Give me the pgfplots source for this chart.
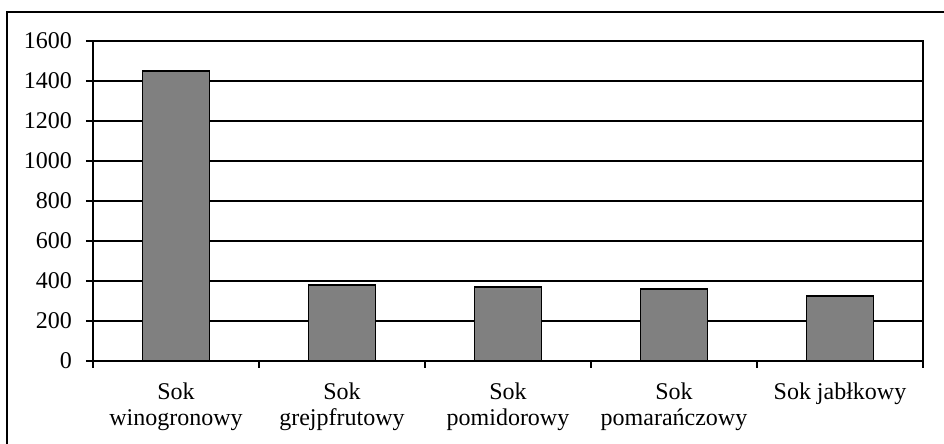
\documentclass[border=0pt]{standalone}
\usepackage{pgfplots}
\pgfplotsset{compat=1.18}
\usepackage{fontspec}
\setmainfont{Liberation Serif}
\definecolor{bargray}{HTML}{808080}
\begin{document}
\begin{tikzpicture}
\path[use as bounding box] (-46.5pt,-41.5pt) rectangle (425.5pt,180.5pt);
% outer frame; its right and bottom sides lie past the page edge
\draw[line width=0.7pt] (-43pt,-60pt) rectangle (440pt,174.5pt);
\begin{axis}[
  at={(0,0)}, anchor=south west,
  scale only axis,
  width=415pt, height=160pt,
  xmin=-0.5, xmax=4.5,
  ymin=0, ymax=1600,
  ytick={0,200,...,1600},
  xtick={0,1,2,3,4},
  xticklabels={{Sok\\winogronowy},{Sok\\grejpfrutowy},{Sok\\pomidorowy},{Sok\\pomarańczowy},{Sok jabłkowy}},
  xticklabel style={align=center, anchor=north, yshift=-4pt},
  minor xtick={-0.5,0.5,...,4.5},
  major x tick style={draw=none},
  xtick pos=bottom, ytick pos=left,
  tick align=outside,
  major tick length=3.5pt,
  minor tick length=3.5pt,
  every tick/.style={black, line width=0.8pt},
  ymajorgrids,
  grid style={black, line width=0.7pt},
  axis line style={line width=0.8pt},
  yticklabel style={xshift=-3.5pt},
  /pgf/number format/assume math mode=true,
  /pgf/number format/1000 sep={},
  tick label style={font=\fontsize{12}{13}\selectfont},
  ybar, bar width=33.5pt,
]
\addplot[fill=bargray, draw=black, line width=0.8pt]
  coordinates {(0,1450) (1,380) (2,370) (3,360) (4,325)};
\end{axis}
\end{tikzpicture}
\end{document}
